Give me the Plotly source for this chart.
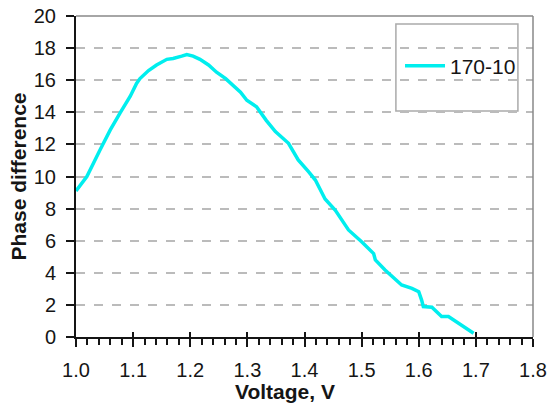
import plotly.graph_objects as go

voltage = [1.000, 1.019, 1.042, 1.060, 1.077, 1.095, 1.106, 1.112, 1.127, 1.141, 1.159, 1.170,
           1.185, 1.194, 1.205, 1.217, 1.232, 1.246, 1.262, 1.275, 1.288, 1.299, 1.316, 1.333,
           1.349, 1.372, 1.389, 1.407, 1.419, 1.436, 1.454, 1.477, 1.500, 1.521, 1.524,
           1.541, 1.556, 1.570, 1.588, 1.600, 1.605, 1.608, 1.623, 1.640, 1.652, 1.670, 1.696]
phase = [9.1, 10.0, 11.65, 12.9, 13.95, 15.0, 15.8, 16.1, 16.6, 16.95, 17.3, 17.35,
         17.5, 17.6, 17.5, 17.3, 16.95, 16.5, 16.1, 15.7, 15.25, 14.75, 14.35, 13.5,
         12.8, 12.07, 11.03, 10.3, 9.78, 8.6, 7.9, 6.67, 5.94, 5.2, 4.8,
         4.17, 3.7, 3.24, 3.03, 2.82, 2.3, 1.9, 1.85, 1.27, 1.27, 0.85, 0.23]
series_name = "170-10"

x_ticks = [1.0, 1.1, 1.2, 1.3, 1.4, 1.5, 1.6, 1.7, 1.8]
y_ticks = [0, 2, 4, 6, 8, 10, 12, 14, 16, 18, 20]

FONT = "Liberation Sans, Arial, sans-serif"
CYAN = "#00EEEE"
INK = "#151515"

fig = go.Figure()
fig.add_trace(go.Scatter(x=voltage, y=phase, mode="lines", name=series_name,
                         line=dict(color=CYAN, width=3.5)))
# helper invisible trace for the inside major ticks axis
fig.add_trace(go.Scatter(x=[x_ticks[0]], y=[y_ticks[0]], xaxis="x2", mode="markers",
                         marker=dict(opacity=0), showlegend=False, hoverinfo="skip"))

fig.update_layout(
    width=550, height=405,
    margin=dict(l=76, r=17, t=16, b=68, autoexpand=False),
    paper_bgcolor="white", plot_bgcolor="white",
    font=dict(family=FONT, size=20, color=INK),
    showlegend=True,
    legend=dict(x=0.709, y=0.844, xanchor="left", yanchor="middle",
                bgcolor="rgba(0,0,0,0)", borderwidth=0,
                font=dict(family=FONT, size=21, color=INK),
                itemwidth=40),
    xaxis=dict(range=[1.0, 1.8], tickvals=x_ticks, ticktext=[f"{v:.1f}" for v in x_ticks],
               showgrid=False, zeroline=False, automargin=False,
               showline=True, linecolor=INK, linewidth=2,
               ticks="outside", ticklen=8, tickwidth=2, tickcolor=INK,
               minor=dict(dtick=0.02, tick0=1.0, ticks="outside", ticklen=6, tickwidth=1.5,
                          tickcolor=INK, showgrid=False),
               tickfont=dict(size=20), ticklabelstandoff=6),
    xaxis2=dict(range=[1.0, 1.8], overlaying="x", matches="x", tickvals=x_ticks,
                showticklabels=False, showgrid=False, zeroline=False, showline=False,
                automargin=False,
                ticks="inside", ticklen=5, tickwidth=2, tickcolor=INK, side="bottom"),
    yaxis=dict(range=[0, 20], tickvals=y_ticks, showgrid=True, gridcolor="#BBBBBB",
               griddash="dash", gridwidth=1.5, zeroline=False, automargin=False,
               showline=True, linecolor=INK, linewidth=2,
               ticks="outside", ticklen=8, tickwidth=2, tickcolor=INK,
               tickfont=dict(size=20), ticklabelstandoff=6,
               title=dict(text="<b>Phase difference</b>", font=dict(size=21), standoff=1)),
    shapes=[
        dict(type="line", xref="paper", yref="paper", x0=0, x1=1, y0=1, y1=1,
             line=dict(color="#888888", width=1.5)),
        dict(type="line", xref="paper", yref="paper", x0=1, x1=1, y0=0, y1=1,
             line=dict(color="#888888", width=1.5)),
        dict(type="rect", xref="paper", yref="paper", x0=0.70, x1=0.967, y0=0.704, y1=0.975,
             line=dict(color="#AAAAAA", width=1.5), fillcolor="white", layer="below"),
    ],
    annotations=[
        dict(text="<b>Voltage, V</b>", xref="paper", yref="paper", x=0.457, y=0,
             xanchor="center", yanchor="middle", yshift=-54, showarrow=False,
             font=dict(family=FONT, size=21, color=INK)),
    ],
)

fig.write_html("out.html", config={"displayModeBar": False},
               post_script="document.body.style.margin='0';document.body.style.padding='0';")
